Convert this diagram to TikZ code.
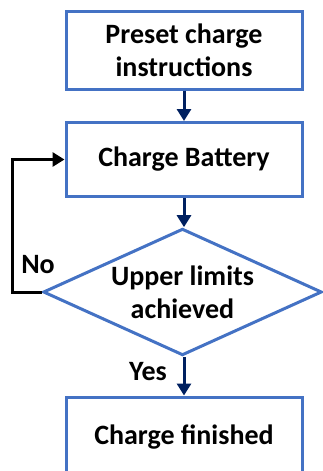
\documentclass[tikz,border=0pt]{standalone}
\usepackage{fontspec}
\setmainfont{Carlito}
\definecolor{frame}{HTML}{4472C4}
\definecolor{navy}{HTML}{002060}
\usetikzlibrary{arrows.meta,shapes.geometric}
\tikzset{
  box/.style={draw=frame,line width=2.25pt,fill=white,align=center,
              minimum width=177pt,inner sep=0pt,
              font=\fontsize{21}{25}\selectfont\bfseries},
  test/.style={box,diamond,aspect=2.2,minimum width=209pt,minimum height=95pt},
  arr/.style={-{Triangle[width=10.5pt,length=9pt]},line width=2.25pt,navy},
  back/.style={-{Triangle[width=10.5pt,length=9pt]},line width=2.25pt,black},
  lbl/.style={font=\fontsize{21}{25}\selectfont\bfseries,inner sep=0pt}
}
\begin{document}
\begin{tikzpicture}[x=0.75pt,y=-0.75pt]
    \useasboundingbox (0,0) rectangle (322,471);
    \node[box,minimum height=58.5pt] (pre) at (184,50)    {Preset charge\\instructions};
    \node[box,minimum height=55.5pt] (chg) at (184,159.5) {Charge Battery};
    \node[test] (lim) at (182.5,292) {Upper limits\\achieved};
    \node[box,minimum height=60pt] (fin) at (184,437)   {Charge finished};
    \coordinate (lp) at (12,292);
    \draw[arr] (pre) -- (chg);
    \draw[arr] (chg.south) -- (chg.south |- lim.north);
    \draw[arr] (lim.south -| fin.north) -- (fin.north);
    \draw[back] (lim.west) -- (lp) |- (chg.west);
    \node[lbl] (no)  at (38,265)  {No};
    \node[lbl] (yes) at (148,372) {Yes};
\end{tikzpicture}
\end{document}
